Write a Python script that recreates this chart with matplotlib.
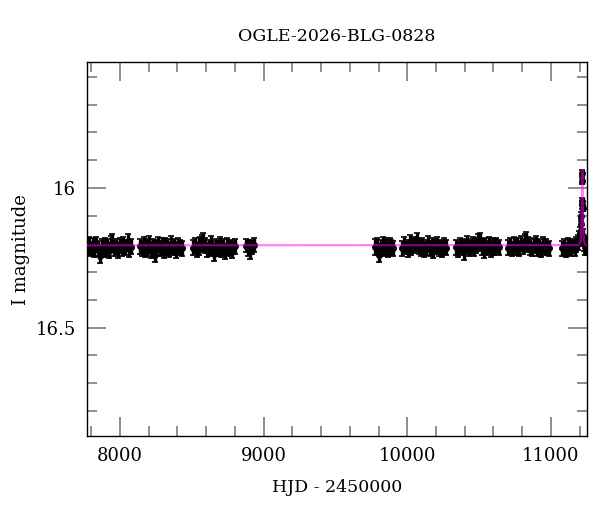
import numpy as np
import matplotlib
matplotlib.use("Agg")
import matplotlib.pyplot as plt
from matplotlib.ticker import MultipleLocator

# photometry, one list per observing season (HJD - 2450000, I mag, error)
s1_t = [7772, 7784, 7797, 7809, 7822, 7835, 7847, 7860, 7873, 7885, 7898, 7911, 7923,
        7936, 7945, 7961, 7974, 7986, 7999, 8012, 8024, 8037, 8055, 8062, 8074]
s1_m = [16.211, 16.204, 16.218, 16.207, 16.221, 16.202, 16.215, 16.244, 16.209, 16.220,
        16.205, 16.213, 16.225, 16.200, 16.196, 16.216, 16.209, 16.222, 16.206, 16.217,
        16.203, 16.212, 16.191, 16.219, 16.210]
s1_e = [0.027, 0.028, 0.026, 0.030, 0.027, 0.028, 0.027, 0.024, 0.026, 0.028, 0.027, 0.030,
        0.027, 0.028, 0.030, 0.026, 0.027, 0.028, 0.027, 0.026, 0.028, 0.027, 0.028, 0.028, 0.026]

s2_t = [8140, 8152, 8165, 8177, 8190, 8203, 8215, 8228, 8240, 8253, 8266, 8278,
        8291, 8304, 8316, 8329, 8341, 8354, 8367, 8379, 8392, 8405, 8417, 8430]
s2_m = [16.209, 16.216, 16.203, 16.220, 16.212, 16.198, 16.225, 16.207, 16.238, 16.214,
        16.202, 16.217, 16.209, 16.223, 16.205, 16.212, 16.219, 16.201, 16.214, 16.208,
        16.221, 16.204, 16.213, 16.216]
s2_e = [0.027, 0.028, 0.027, 0.026, 0.030, 0.028, 0.027, 0.026, 0.026, 0.027, 0.028, 0.027,
        0.030, 0.026, 0.027, 0.028, 0.027, 0.030, 0.026, 0.027, 0.028, 0.027, 0.026, 0.027]

s3_t = [8509, 8521, 8534, 8547, 8559, 8572, 8580, 8592, 8605, 8618, 8630, 8643,
        8656, 8668, 8681, 8694, 8706, 8719, 8732, 8744, 8757, 8770, 8782, 8798]
s3_m = [16.214, 16.205, 16.219, 16.210, 16.202, 16.196, 16.191, 16.207, 16.222, 16.213,
        16.200, 16.218, 16.236, 16.209, 16.215, 16.204, 16.220, 16.211, 16.228, 16.206,
        16.217, 16.212, 16.221, 16.209]
s3_e = [0.027, 0.028, 0.027, 0.030, 0.027, 0.028, 0.030, 0.027, 0.026, 0.028, 0.027, 0.027,
        0.026, 0.028, 0.027, 0.030, 0.026, 0.027, 0.026, 0.028, 0.027, 0.026, 0.028, 0.027]

s4_t = [8879, 8893, 8906, 8920, 8936]
s4_m = [16.206, 16.214, 16.222, 16.211, 16.204]
s4_e = [0.024, 0.028, 0.033, 0.026, 0.024]

s5_t = [9778, 9790, 9804, 9815, 9828, 9840, 9853, 9865, 9878, 9890, 9899]
s5_m = [16.211, 16.205, 16.240, 16.214, 16.202, 16.218, 16.209, 16.221, 16.206, 16.213, 16.216]
s5_e = [0.027, 0.028, 0.024, 0.027, 0.028, 0.027, 0.030, 0.027, 0.028, 0.027, 0.026]

s6_t = [9966, 9979, 9991, 10004, 10017, 10029, 10042, 10055, 10068, 10080, 10093, 10105, 10118,
        10131, 10143, 10156, 10169, 10181, 10194, 10207, 10219, 10232, 10245, 10257, 10268]
s6_m = [16.216, 16.204, 16.211, 16.220, 16.199, 16.213, 16.206, 16.202, 16.190, 16.209,
        16.217, 16.205, 16.221, 16.212, 16.201, 16.215, 16.208, 16.223, 16.210, 16.204,
        16.218, 16.212, 16.220, 16.207, 16.214]
s6_e = [0.027, 0.028, 0.026, 0.027, 0.030, 0.027, 0.028, 0.027, 0.030, 0.026, 0.027, 0.028,
        0.027, 0.026, 0.028, 0.027, 0.030, 0.027, 0.026, 0.028, 0.027, 0.026, 0.027, 0.028, 0.027]

s7_t = [10341, 10354, 10366, 10379, 10392, 10404, 10417, 10430, 10442, 10455, 10468, 10480,
        10493, 10506, 10518, 10531, 10544, 10556, 10569, 10582, 10594, 10607, 10620, 10637]
s7_m = [16.212, 16.220, 16.205, 16.214, 16.227, 16.209, 16.201, 16.216, 16.210, 16.204,
        16.218, 16.206, 16.196, 16.192, 16.211, 16.222, 16.207, 16.215, 16.203, 16.219,
        16.210, 16.214, 16.205, 16.212]
s7_e = [0.027, 0.026, 0.028, 0.027, 0.030, 0.027, 0.028, 0.027, 0.026, 0.028, 0.027, 0.028,
        0.030, 0.031, 0.027, 0.028, 0.027, 0.026, 0.028, 0.027, 0.030, 0.027, 0.028, 0.027]

s8_t = [10703, 10716, 10728, 10741, 10754, 10766, 10779, 10792, 10804, 10817, 10830, 10842,
        10855, 10868, 10880, 10893, 10906, 10918, 10931, 10944, 10956, 10969, 10986]
s8_m = [16.214, 16.207, 16.219, 16.202, 16.211, 16.205, 16.216, 16.198, 16.210, 16.194,
        16.189, 16.203, 16.212, 16.218, 16.206, 16.201, 16.215, 16.209, 16.220, 16.204,
        16.212, 16.207, 16.215]
s8_e = [0.027, 0.028, 0.026, 0.027, 0.028, 0.027, 0.026, 0.028, 0.027, 0.030, 0.031, 0.027,
        0.028, 0.026, 0.027, 0.028, 0.027, 0.026, 0.027, 0.028, 0.027, 0.026, 0.027]

s9_t = [11079, 11091, 11104, 11116, 11129, 11141, 11154, 11166, 11178, 11188, 11196,
        11203, 11208, 11212, 11215, 11217, 11219, 11220, 11221, 11226, 11231, 11237, 11244, 11249]
s9_m = [16.216, 16.209, 16.222, 16.204, 16.213, 16.218, 16.207, 16.214, 16.202, 16.196, 16.181,
        16.160, 16.130, 16.100, 16.060, 16.045, 15.945, 15.975, 16.070, 16.170, 16.200, 16.211,
        16.206, 16.214]
s9_e = [0.027, 0.028, 0.026, 0.027, 0.028, 0.027, 0.026, 0.028, 0.027, 0.027, 0.026,
        0.022, 0.020, 0.016, 0.013, 0.011, 0.010, 0.010, 0.011, 0.022, 0.026, 0.027, 0.027, 0.026]

# point-lens model curve
model_t = [7770, 11195, 11205, 11210, 11214, 11217, 11219, 11221, 11224, 11228, 11233, 11243, 11250]
model_m = [16.205, 16.204, 16.195, 16.17, 16.10, 16.00, 15.935, 16.00, 16.10, 16.17, 16.195, 16.204, 16.205]

seasons = [(s1_t, s1_m, s1_e), (s2_t, s2_m, s2_e), (s3_t, s3_m, s3_e), (s4_t, s4_m, s4_e),
           (s5_t, s5_m, s5_e), (s6_t, s6_m, s6_e), (s7_t, s7_m, s7_e), (s8_t, s8_m, s8_e),
           (s9_t, s9_m, s9_e)]

plt.rcParams['font.family'] = ['DejaVu Serif']

fig = plt.figure(figsize=(6, 5.12), dpi=100)
ax = fig.add_axes([0.145, 0.148, 0.833, 0.731])

for t, m, e in seasons:
    ax.errorbar(t, m, yerr=e, fmt='o', color='black', ms=4.0, elinewidth=2.4,
                capsize=2.0, capthick=1.2, zorder=2)

ax.plot(model_t, model_m, color='#ff00ff', alpha=0.5, lw=1.6, zorder=3)

ax.set_xlim(7770, 11250)
ax.set_ylim(16.89, 15.547)

ax.xaxis.set_major_locator(MultipleLocator(1000))
ax.xaxis.set_minor_locator(MultipleLocator(200))
ax.yaxis.set_major_locator(MultipleLocator(0.5))
ax.yaxis.set_minor_locator(MultipleLocator(0.1))
ax.yaxis.set_major_formatter(plt.FuncFormatter(lambda v, p: f"{v:g}"))

ax.tick_params(which='both', direction='in', top=True, right=True,
               color='#707070', width=1.1, labelsize=13)
ax.tick_params(which='major', length=14, pad=8)
ax.tick_params(which='minor', length=7)
for sp in ax.spines.values():
    sp.set_linewidth(1.0)

ax.set_xlabel('HJD - 2450000', fontsize=12.5, labelpad=10)
ax.set_ylabel('I magnitude', fontsize=13, labelpad=4)
ax.set_title('OGLE-2026-BLG-0828', fontsize=12.5, pad=15)

fig.savefig('out.png', dpi=100)
